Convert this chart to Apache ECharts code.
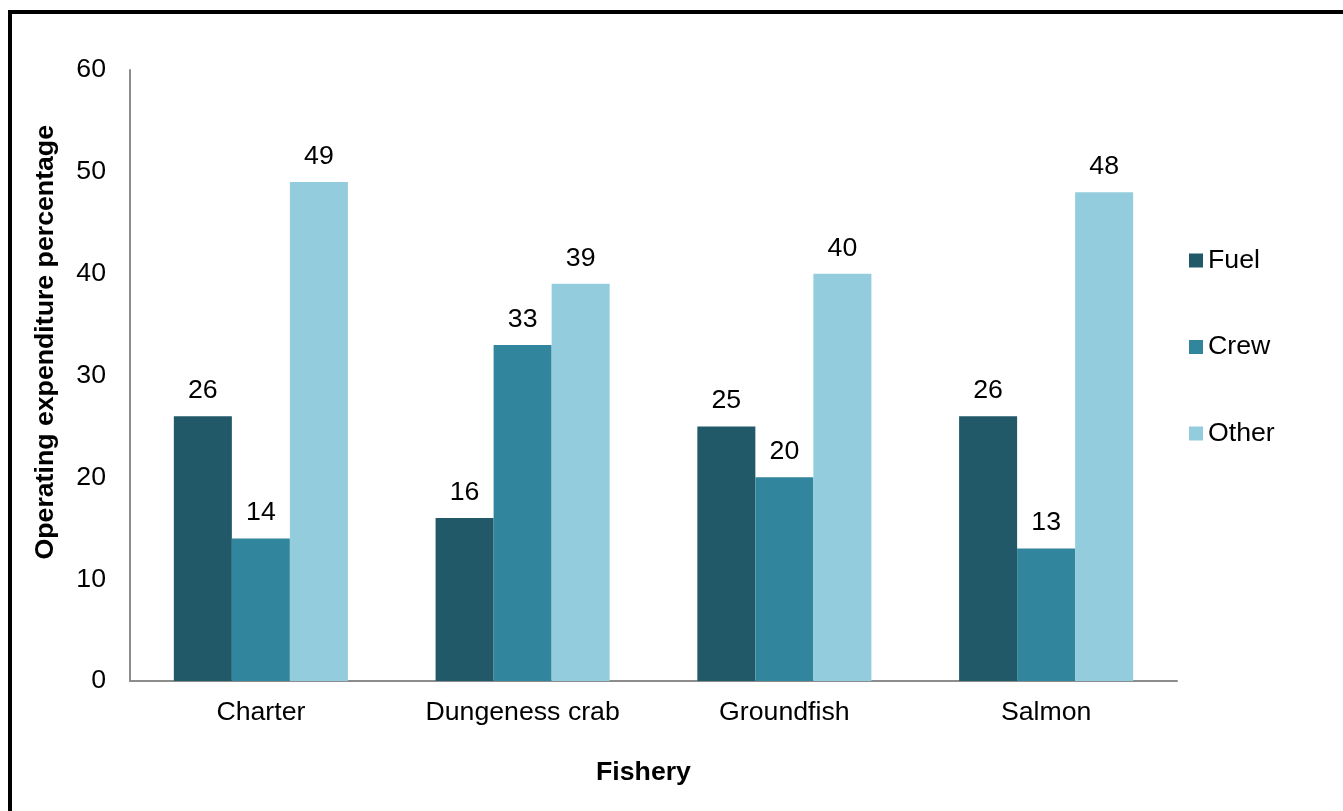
<!DOCTYPE html>
<html>
<head>
<meta charset="utf-8">
<script src="https://cdn.jsdelivr.net/npm/echarts@6/dist/echarts.min.js"></script>
<style>
  html, body { margin: 0; padding: 0; background: #fff; }
  #chart { width: 1343px; height: 811px; }
</style>
</head>
<body>
<div id="chart"></div>
<script>
// Share of operating expenditure by fishery
const fisheries = ['Charter', 'Dungeness crab', 'Groundfish', 'Salmon'];
const fuel = [26, 16, 25, 26];
const crew = [14, 33, 20, 13];
const other = [49, 39, 40, 48];
const yTicks = { min: 0, max: 60, interval: 10 };

const FONT = '"Liberation Sans", Arial, sans-serif';
const FS = 26.7;
const chart = echarts.init(document.getElementById('chart'), null, { renderer: 'canvas' });

function barSeries(name, data, color) {
  return {
    name: name,
    type: 'bar',
    data: data,
    barGap: '0%',
    barCategoryGap: '33.5%',
    itemStyle: { color: color },
    label: {
      show: true,
      position: 'top',
      distance: 12,
      color: '#000',
      fontFamily: FONT,
      fontSize: FS
    },
    emphasis: { disabled: true }
  };
}

chart.setOption({
  backgroundColor: '#fff',
  animation: false,
  textStyle: { fontFamily: FONT },
  grid: { left: 130, right: 166, top: 70, bottom: 130, containLabel: false },
  legend: {
    orient: 'vertical',
    left: 1184,
    top: 242,
    itemWidth: 14,
    itemHeight: 14,
    itemGap: 59.5,
    icon: 'rect',
    textStyle: { fontFamily: FONT, fontSize: FS, color: '#000' },
    data: ['Fuel', 'Crew', 'Other']
  },
  xAxis: {
    type: 'category',
    data: fisheries,
    name: 'Fishery',
    nameLocation: 'middle',
    nameGap: 78,
    nameTextStyle: { fontFamily: FONT, fontSize: FS, fontWeight: 'bold', color: '#000', padding: [0, 20, 0, 0] },
    axisLine: { lineStyle: { color: '#8c8c8c', width: 2 } },
    axisTick: { show: false },
    axisLabel: { color: '#000', fontSize: FS, fontFamily: FONT, margin: 18 }
  },
  yAxis: {
    type: 'value',
    min: yTicks.min,
    max: yTicks.max,
    interval: yTicks.interval,
    axisLine: { show: true, lineStyle: { color: '#8c8c8c', width: 2 } },
    axisTick: { show: false },
    splitLine: { show: false },
    axisLabel: { color: '#000', fontSize: FS, fontFamily: FONT, margin: 24 }
  },
  graphic: [
    {
      type: 'text',
      left: 32,
      top: 125,
      rotation: Math.PI / 2,
      style: {
        text: 'Operating expenditure percentage',
        fontFamily: FONT,
        fontSize: FS,
        fontWeight: 'bold',
        fill: '#000'
      }
    },
    {
      type: 'polyline',
      silent: true,
      shape: { points: [[10, 820], [10, 12], [1350, 12]] },
      style: { stroke: '#000', lineWidth: 4, fill: null }
    }
  ],
  series: [
    barSeries('Fuel', fuel, '#215968'),
    barSeries('Crew', crew, '#31859C'),
    barSeries('Other', other, '#93CDDD')
  ]
});
</script>
</body>
</html>
